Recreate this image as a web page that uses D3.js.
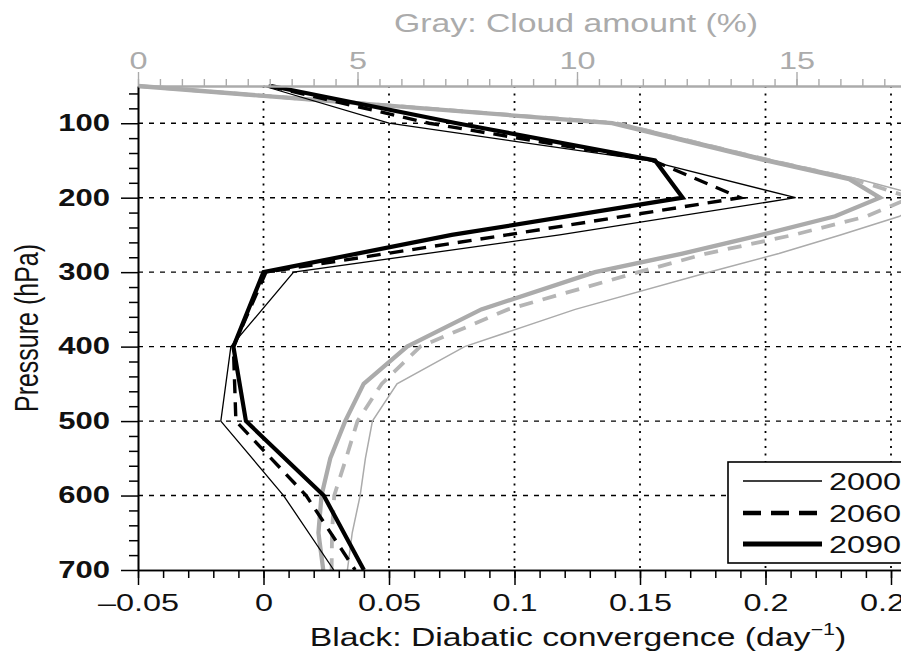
<!DOCTYPE html>
<html>
<head>
<meta charset="utf-8">
<script src="https://cdn.jsdelivr.net/npm/d3@7"></script>
<style>
  body { margin: 0; background: #fff; }
  svg { display: block; }
  text { font-family: "Liberation Sans", Arial, Helvetica, sans-serif; }
</style>
</head>
<body>
<svg id="chart" width="907" height="658"></svg>
<script>
// Diabatic convergence profiles (day^-1) on pressure levels (hPa)
const pressureLevels = [50, 100, 150, 200, 250, 300, 400, 500, 600, 700];
const conv2000 = [0.000, 0.050, 0.153, 0.212, 0.118, 0.012, -0.013, -0.017, 0.008, 0.028];
const conv2060 = [0.002, 0.066, 0.155, 0.190, 0.097, 0.001, -0.012, -0.011, 0.017, 0.0365];
const conv2090 = [0.003, 0.077, 0.156, 0.167, 0.075, 0.000, -0.012, -0.007, 0.024, 0.040];

// Cloud amount profiles (%)
const cloudLevels = [50, 100, 150, 175, 200, 225, 250, 275, 300, 350, 400, 450, 500, 550, 600, 650, 700];
const cloud2000 = [0, 11.0, 14.5, 16.4, 18.0, 17.35, 16.0, 14.6, 13.0, 9.96, 7.44, 5.90, 5.34, 5.18, 5.06, 4.88, 4.77];
const cloud2060 = [0, 10.9, 14.4, 16.3, 17.6, 16.6, 14.93, 12.95, 11.4, 8.43, 6.43, 5.55, 5.00, 4.74, 4.47, 4.42, 4.41];
const cloud2090 = [0, 10.8, 14.3, 16.2, 16.9, 15.88, 14.2, 12.4, 10.41, 7.82, 6.13, 5.14, 4.72, 4.38, 4.18, 4.11, 4.22];

const yearLabels = ["2000", "2060", "2090"];
const convTicks = [-0.05, 0, 0.05, 0.1, 0.15, 0.2, 0.25];
const cloudTicks = [0, 5, 10, 15];
const pressureTicks = [100, 200, 300, 400, 500, 600, 700];

// Figure geometry
const SX = 1.35;                 // horizontal stretch applied to all type
const FONT = "Liberation Sans, Arial, Helvetica, sans-serif";
const plotLeft = 138, plotTop = 86, plotBottom = 570, plotRight = 941.2;
const GRAY = "#ababab";

const svg = d3.select("#chart");
svg.append("defs").append("clipPath").attr("id", "figclip")
  .append("rect").attr("x", 0).attr("y", 0).attr("width", 901).attr("height", 658);
const root = svg.append("g").attr("clip-path", "url(#figclip)");

const x = d3.scaleLinear().domain([-0.05, 0.27]).range([plotLeft, plotRight]);
const xTop = d3.scaleLinear().domain([0, 18.3]).range([plotLeft, plotLeft + 18.3 * 43.9]);
const y = d3.scaleLinear().domain([50, 700]).range([plotTop, plotBottom]);

// Grid
const grid = root.append("g");
grid.selectAll("line.h").data(pressureTicks.filter(p => p < 700)).join("line")
  .attr("class", "h")
  .attr("x1", plotLeft).attr("x2", plotRight)
  .attr("y1", d => y(d)).attr("y2", d => y(d))
  .attr("stroke", "#000").attr("stroke-width", 1.4).attr("stroke-dasharray", "5,6");
grid.selectAll("line.v").data(convTicks.filter(v => v > -0.05)).join("line")
  .attr("class", "v")
  .attr("x1", d => x(d)).attr("x2", d => x(d))
  .attr("y1", plotTop).attr("y2", plotBottom)
  .attr("stroke", "#000").attr("stroke-width", 1.8).attr("stroke-dasharray", "2,5.5");

// Profiles
const convLine = d3.line().x(d => x(d[1])).y(d => y(d[0]));
const cloudLine = d3.line().x(d => xTop(d[1])).y(d => y(d[0]));
const zip = (ps, vs) => ps.map((p, i) => [p, vs[i]]);

const grayStyles = [
  { w: 1.5, dash: null },
  { w: 3.8, dash: "14,10" },
  { w: 4.3, dash: null }
];
const blackStyles = [
  { w: 1.3, dash: null },
  { w: 3.4, dash: "14,9" },
  { w: 4.2, dash: null }
];

const lines = root.append("g").attr("fill", "none").attr("stroke-linejoin", "miter");
[cloud2000, cloud2060, cloud2090].forEach((vals, i) => {
  lines.append("path")
    .attr("d", cloudLine(zip(cloudLevels, vals)))
    .attr("stroke", i === 1 ? "#b5b5b5" : GRAY)
    .attr("stroke-width", grayStyles[i].w)
    .attr("stroke-dasharray", grayStyles[i].dash);
});
[conv2000, conv2060, conv2090].forEach((vals, i) => {
  lines.append("path")
    .attr("d", convLine(zip(pressureLevels, vals)))
    .attr("stroke", "#000")
    .attr("stroke-width", blackStyles[i].w)
    .attr("stroke-dasharray", blackStyles[i].dash);
});

// Axes
const fmtConv = d => d === 0 ? "0" : (d < 0 ? "\u2013" + String(-d) : String(d));

const bottomMinor = root.append("g").attr("transform", `translate(0,${plotBottom})`)
  .call(d3.axisBottom(x).tickValues(d3.range(-50, 251, 10).map(v => v / 1000)).tickSize(8).tickSizeOuter(0).tickFormat(""));
const bottomAxis = root.append("g").attr("transform", `translate(0,${plotBottom})`)
  .call(d3.axisBottom(x).tickValues(convTicks).tickSize(15).tickSizeOuter(0).tickFormat(fmtConv));
[bottomMinor, bottomAxis].forEach(g => {
  g.selectAll("line").attr("stroke", "#000").attr("stroke-width", 1.5);
  g.select(".domain").attr("stroke", "#000").attr("stroke-width", 1.6);
});
bottomAxis.selectAll("text")
  .attr("font-family", FONT).attr("font-size", 24).attr("fill", "#111")
  .attr("y", 24).attr("transform", `scale(${SX},1)`);

const leftMinor = root.append("g").attr("transform", `translate(${plotLeft},0)`)
  .call(d3.axisLeft(y).tickValues(d3.range(60, 700, 20).filter(p => p % 100 !== 0)).tickSize(9).tickSizeOuter(0).tickFormat(""));
const leftAxis = root.append("g").attr("transform", `translate(${plotLeft},0)`)
  .call(d3.axisLeft(y).tickValues(pressureTicks).tickSize(17).tickSizeOuter(0));
[leftMinor, leftAxis].forEach(g => {
  g.selectAll("line").attr("stroke", "#000").attr("stroke-width", 1.5);
  g.select(".domain").attr("stroke", "#000").attr("stroke-width", 1.6);
});
leftAxis.selectAll("text")
  .attr("font-family", FONT).attr("font-size", 23).attr("font-weight", "bold").attr("fill", "#111")
  .attr("x", -28 / SX).attr("transform", `scale(${SX},1)`);

const topMinor = root.append("g").attr("transform", `translate(0,${plotTop})`)
  .call(d3.axisTop(xTop).tickValues(d3.range(0, 18.01, 0.5)).tickSize(7).tickSizeOuter(0).tickFormat(""));
const topAxis = root.append("g").attr("transform", `translate(0,${plotTop})`)
  .call(d3.axisTop(xTop).tickValues(cloudTicks).tickSize(14).tickSizeOuter(0));
[topMinor, topAxis].forEach(g => {
  g.selectAll("line").attr("stroke", GRAY).attr("stroke-width", 1.4);
  g.select(".domain").attr("stroke", GRAY).attr("stroke-width", 1.8);
});
topAxis.selectAll("text")
  .attr("font-family", FONT).attr("font-size", 24).attr("fill", GRAY)
  .attr("y", -17).attr("transform", `scale(${SX},1)`);

// Axis titles
root.append("text")
  .attr("transform", `translate(576,32) scale(${SX},1)`)
  .attr("text-anchor", "middle").attr("font-size", 25).attr("fill", GRAY)
  .text("Gray: Cloud amount (%)");

const xt = root.append("text")
  .attr("transform", `translate(578,646) scale(${SX},1)`)
  .attr("text-anchor", "middle").attr("font-size", 25).attr("fill", "#111");
xt.append("tspan").text("Black: Diabatic convergence (day");
xt.append("tspan").attr("font-size", 16).attr("dy", -11).text("\u22121");
xt.append("tspan").attr("dy", 11).text(")");

root.append("text")
  .attr("transform", `translate(38,328) scale(${SX},1) rotate(-90)`)
  .attr("text-anchor", "middle").attr("font-size", 25).attr("fill", "#111")
  .text("Pressure (hPa)");

// Legend
const legend = root.append("g");
legend.append("rect").attr("x", 728).attr("y", 462).attr("width", 300).attr("height", 101)
  .attr("fill", "#fff").attr("stroke", "#000").attr("stroke-width", 1.6);
const legendRows = [481, 513, 544];
const legendStyles = [
  { w: 1.4, dash: null },
  { w: 4.5, dash: "18,10" },
  { w: 5.2, dash: null }
];
yearLabels.forEach((lab, i) => {
  legend.append("line")
    .attr("x1", 743).attr("x2", 822)
    .attr("y1", legendRows[i]).attr("y2", legendRows[i])
    .attr("stroke", "#000").attr("stroke-width", legendStyles[i].w)
    .attr("stroke-dasharray", legendStyles[i].dash);
  legend.append("text")
    .attr("transform", `translate(829,${legendRows[i] + 8.5}) scale(${SX},1)`)
    .attr("font-size", 24).attr("fill", "#111")
    .text(lab);
});
</script>
</body>
</html>
